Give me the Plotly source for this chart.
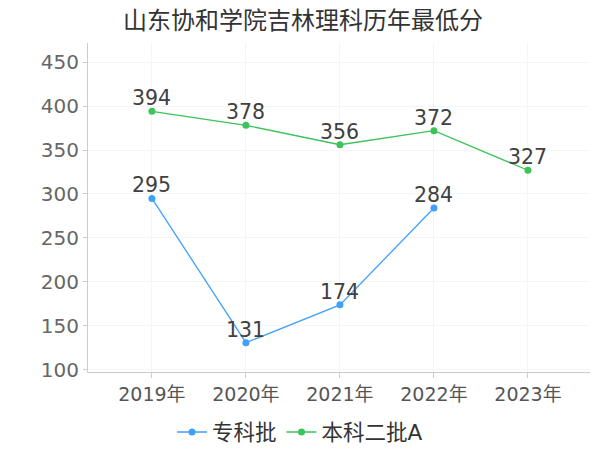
import plotly.graph_objects as go

years = ["2019年", "2020年", "2021年", "2022年", "2023年"]
zhuanke_years = ["2019年", "2020年", "2021年", "2022年"]
zhuanke = [295, 131, 174, 284]
benke2a = [394, 378, 356, 372, 327]
title = "山东协和学院吉林理科历年最低分"
font_family = "DejaVu Sans, Noto Sans CJK SC"

fig = go.Figure()
fig.add_trace(go.Scatter(
    x=zhuanke_years, y=zhuanke, name="专科批", mode="lines+markers",
    line=dict(color="#3fa0ff", width=1.3), marker=dict(size=7, color="#3fa0ff"),
))
fig.add_trace(go.Scatter(
    x=years, y=benke2a, name="本科二批A", mode="lines+markers",
    line=dict(color="#3cc35a", width=1.3), marker=dict(size=7, color="#3cc35a"),
))
for xs, ys in ((zhuanke_years, zhuanke), (years, benke2a)):
    for xv, yv in zip(xs, ys):
        fig.add_annotation(x=xv, y=yv, text=str(yv), showarrow=False,
                           xanchor="center", yanchor="middle", yshift=13,
                           font=dict(size=20.5, color="#404040"))

fig.update_layout(
    width=600, height=450,
    paper_bgcolor="white", plot_bgcolor="white",
    font=dict(family=font_family, color="#333"),
    title=dict(text=title, x=0.505, xanchor="center", y=0.955, yanchor="middle",
               font=dict(size=24, color="#333")),
    margin=dict(l=88, r=10, t=43, b=78, autoexpand=False),
    showlegend=True,
    legend=dict(orientation="h", x=0.5, xanchor="center", xref="container",
                y=0.04, yanchor="middle", yref="container",
                font=dict(size=21.5, color="#333"), itemwidth=30, tracegroupgap=0),
    xaxis=dict(type="category", categoryorder="array", categoryarray=years,
               range=[-0.68, 4.66], showline=True, linecolor="#cccccc",
               ticks="outside", ticklen=5, tickcolor="#cccccc",
               showgrid=True, gridcolor="#f5f5f5",
               tickfont=dict(size=19, color="#555"), zeroline=False),
    yaxis=dict(range=[97.7, 471.6], tickvals=[100, 150, 200, 250, 300, 350, 400, 450],
               showline=True, linecolor="#cccccc", ticks="outside", ticklen=4,
               tickcolor="#cccccc", showgrid=True, gridcolor="#f5f5f5",
               tickfont=dict(size=20, color="#666"), zeroline=False),
)
fig.write_html("out.html", config={"displayModeBar": False},
               post_script="document.body.style.margin='0px';")
